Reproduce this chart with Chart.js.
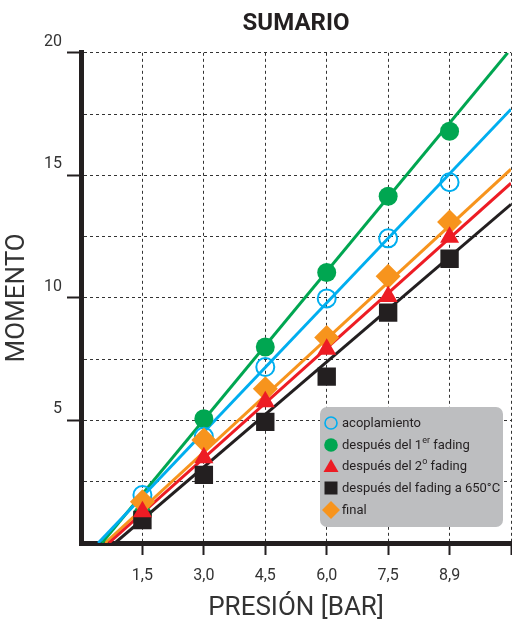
<!DOCTYPE html>
<html>
<head>
<meta charset="utf-8">
<script src="https://cdn.jsdelivr.net/npm/chart.js@4"></script>
<style>
html,body{margin:0;padding:0;background:#fff;overflow:hidden;}
#wrap{position:relative;width:512px;height:627px;}
#leyenda{position:absolute;left:320px;top:407px;width:183px;height:120px;background:#bdbec0;border-radius:7px;
  font-family:Roboto,sans-serif;font-size:13px;color:#231f20;padding-top:5px;box-sizing:border-box;}
#leyenda div{position:relative;height:21.7px;line-height:21.7px;padding-left:22px;white-space:nowrap;}
#leyenda svg{position:absolute;left:2px;top:1px;}
#leyenda sup{font-size:9px;line-height:0;vertical-align:6px;}
</style>
</head>
<body>
<div id="wrap">
<canvas id="grafico"></canvas>
<div id="leyenda"></div>
</div>
<script>
// valores
var presion = [1.5, 3.0, 4.5, 6.0, 7.5, 9.0];
var acoplamiento = [1.96, 4.34, 7.18, 9.98, 12.43, 14.72];
var fading1 = [1.15, 5.07, 8.0, 11.04, 14.15, 16.8];
var fading2 = [1.27, 3.48, 5.76, 7.9, 10.06, 12.47];
var fading650 = [0.94, 2.78, 4.94, 6.79, 9.4, 11.6];
var final = [1.68, 4.2, 6.29, 8.38, 10.88, 13.1];

// rectas de ajuste: inicio y fin (x, y)
var rectaX1 = [0.42, 0.51, 0.68, 0.83, 0.59];
var rectaY1 = [0, 0, 0, 0, 0];
var rectaX2 = [10.5, 10.42, 10.5, 10.5, 10.5];
var rectaY2 = [17.7, 20, 14.68, 13.82, 15.25];

var xTicks = [0, 1.5, 3.0, 4.5, 6.0, 7.5, 9.0, 10.5];
var xLabels = ['', '1,5', '3,0', '4,5', '6,0', '7,5', '8,9', ''];
var yTicks = [0, 2.5, 5, 7.5, 10, 12.5, 15, 17.5, 20];
var yLabels = ['', '', '5', '', '10', '', '15', '', '20'];

var nombres = ['acoplamiento', 'después del 1<sup>er</sup> fading', 'después del 2<sup>o</sup> fading', 'después del fading a 650°C', 'final'];
var series = [acoplamiento, fading1, fading2, fading650, final];
var colores = ['#00aeef', '#00a651', '#ed1c24', '#231f20', '#f7941d'];
var estilos = ['circle', 'circle', 'triangle', 'rect', 'rectRot'];
var radios = [9, 9.5, 11, 13, 12.5];
var capas = [3, 5, 1, 4, 2]; // menor = encima

var datasets = [];
for (let i = 0; i < series.length; i++) {
    datasets.push({
        label: 'recta ' + i,
        data: [{x: rectaX1[i], y: rectaY1[i]}, {x: rectaX2[i], y: rectaY2[i]}],
        showLine: true,
        borderColor: colores[i],
        borderWidth: 3,
        pointRadius: 0,
        order: 10
    });
}
for (let i = 0; i < series.length; i++) {
    datasets.push({
        label: nombres[i],
        data: presion.map(function(p, j){ return {x: p, y: series[i][j]}; }),
        showLine: false,
        pointStyle: estilos[i],
        pointRadius: radios[i],
        pointHoverRadius: radios[i],
        backgroundColor: i == 0 ? 'rgba(0,0,0,0)' : colores[i],
        borderColor: colores[i],
        borderWidth: i == 0 ? 2 : 0,
        order: capas[i]
    });
}

var negro = '#231f20';
var config = {
    type: 'scatter',
    data: {datasets: datasets},
    options: {
        maintainAspectRatio: false,
        animation: false,
        events: [],
        layout: {autoPadding: false, padding: {left: 0, right: 1, top: 0, bottom: 0}},
        plugins: {
            legend: {display: false},
            tooltip: {enabled: false},
            title: {
                display: true,
                text: 'SUMARIO',
                fullSize: false,
                color: negro,
                font: {family: 'Roboto', size: 24, weight: 'bold'},
                padding: {top: 10, bottom: 14}
            }
        },
        scales: {
            x: {
                type: 'linear',
                min: 0, max: 10.5,
                afterBuildTicks: function(s){ s.ticks = xTicks.map(function(v){ return {value: v}; }); },
                afterFit: function(s){ s.height = 84; s.paddingLeft = 0; s.paddingRight = 0; },
                ticks: {
                    autoSkip: false, maxRotation: 0,
                    padding: 11,
                    color: '#333',
                    font: {family: 'Roboto', size: 16},
                    callback: function(v, i){ return xLabels[i]; }
                },
                grid: {
                    color: '#333', lineWidth: 1,
                    tickLength: 12, tickWidth: 2,
                    tickColor: function(c){ return c.tick && c.tick.value > 0 ? negro : 'rgba(0,0,0,0)'; },
                    tickBorderDash: []
                },
                border: {color: negro, width: 5, dash: [3, 3]},
                title: {
                    display: true, text: 'PRESIÓN [BAR]', color: '#333',
                    font: {family: 'Roboto', size: 26},
                    padding: {top: 0, bottom: 3}
                }
            },
            y: {
                min: 0, max: 20,
                afterBuildTicks: function(s){ s.ticks = yTicks.map(function(v){ return {value: v}; }); },
                afterFit: function(s){ s.width = 81; },
                ticks: {
                    autoSkip: false,
                    padding: 5,
                    labelOffset: -11,
                    color: '#333',
                    font: {family: 'Roboto', size: 16},
                    callback: function(v, i){ return yLabels[i]; }
                },
                grid: {
                    color: '#333', lineWidth: 1,
                    tickLength: 14, tickWidth: 2,
                    tickColor: function(c){ return c.tick && c.tick.value > 0 && c.tick.value % 5 == 0 ? negro : 'rgba(0,0,0,0)'; },
                    tickBorderDash: []
                },
                border: {color: negro, width: 5, dash: [3, 3]},
                title: {
                    display: true, text: 'MOMENTO', color: '#333',
                    font: {family: 'Roboto', size: 26},
                    padding: {top: 2, bottom: 0}
                }
            }
        }
    }
};
var myChart = new Chart(document.getElementById('grafico'), config);

// leyenda en html
function marca(i) {
    var c = colores[i];
    var s = '<svg width="18" height="20" viewBox="-9 -10 18 20">';
    if (estilos[i] == 'circle' && i == 0) s += '<circle r="6" fill="none" stroke="' + c + '" stroke-width="1.6"/>';
    else if (estilos[i] == 'circle') s += '<circle r="6.8" fill="' + c + '"/>';
    else if (estilos[i] == 'triangle') s += '<polygon points="0,-7 7.5,6 -7.5,6" fill="' + c + '"/>';
    else if (estilos[i] == 'rect') s += '<rect x="-6.5" y="-6.5" width="13" height="13" fill="' + c + '"/>';
    else s += '<polygon points="0,-9 9,0 0,9 -9,0" fill="' + c + '"/>';
    return s + '</svg>';
}
var html = '';
for (let i = 0; i < nombres.length; i++) {
    html += '<div>' + marca(i) + nombres[i] + '</div>';
}
document.getElementById('leyenda').innerHTML = html;
</script>
</body>
</html>
